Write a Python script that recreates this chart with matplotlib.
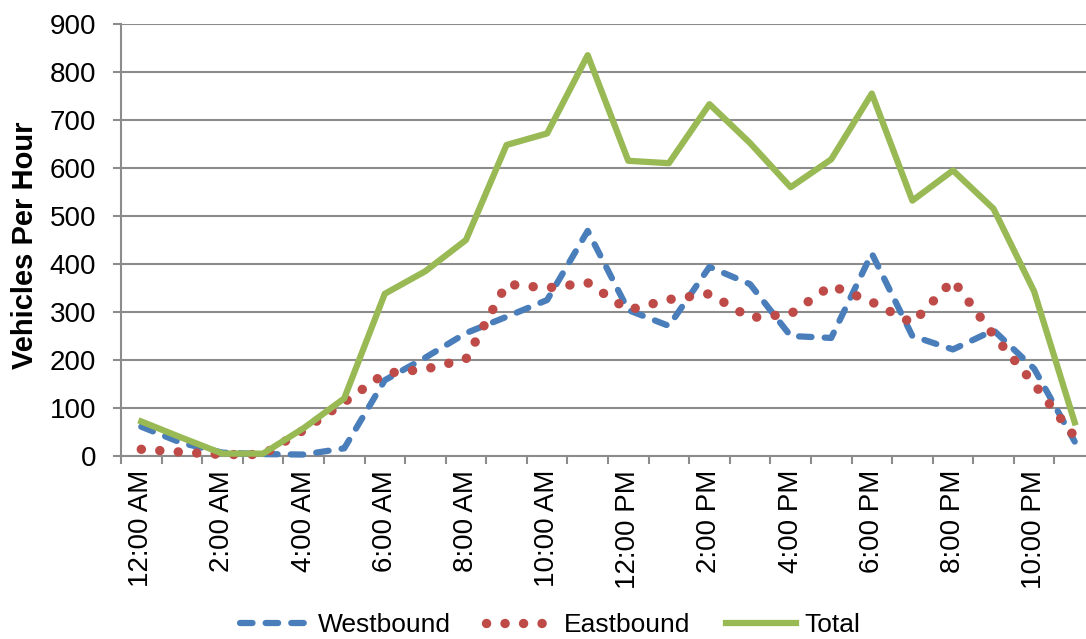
import matplotlib
matplotlib.use("Agg")
import matplotlib.pyplot as plt
import numpy as np

plt.rcParams['font.family'] = ['Liberation Sans', 'DejaVu Sans']

hours = ["12:00 AM", "1:00 AM", "2:00 AM", "3:00 AM", "4:00 AM", "5:00 AM",
         "6:00 AM", "7:00 AM", "8:00 AM", "9:00 AM", "10:00 AM", "11:00 AM",
         "12:00 PM", "1:00 PM", "2:00 PM", "3:00 PM", "4:00 PM", "5:00 PM",
         "6:00 PM", "7:00 PM", "8:00 PM", "9:00 PM", "10:00 PM", "11:00 PM"]
westbound = [61, 27, 7, 4, 3, 16, 158, 205, 256, 290, 325, 469,
             304, 271, 394, 358, 250, 246, 422, 250, 222, 262, 182, 30]
eastbound = [14, 8, 3, 3, 54, 112, 172, 181, 202, 358, 350, 361,
             304, 326, 338, 288, 296, 355, 321, 277, 366, 252, 150, 40]
total = [72, 38, 5, 5, 58, 120, 338, 385, 450, 648, 672, 835,
         615, 610, 733, 652, 560, 618, 755, 532, 595, 515, 343, 70]

W, H = 1086, 639
fig = plt.figure(figsize=(W / 100, H / 100), dpi=100)
left, right, top, bottom = 121, 1095, 24, 456
ax = fig.add_axes([left / W, (H - bottom) / H, (right - left) / W, (bottom - top) / H])

x = np.arange(len(hours))
ax.plot(x, westbound, color='#4A7EBB', lw=4.5, linestyle=(0, (2.0, 2.1)),
        dash_capstyle='round', solid_joinstyle='round', label='Westbound', clip_on=False, zorder=3)
ax.plot(x, eastbound, color='#BE4B48', lw=6.8, linestyle=(0, (0.01, 1.95)),
        dash_capstyle='round', label='Eastbound', clip_on=False, zorder=4)
ax.plot(x, total, color='#98B954', lw=4.5, solid_joinstyle='round',
        label='Total', clip_on=False, zorder=5)

ax.set_xlim(-0.5, len(hours) - 0.5)
ax.set_ylim(0, 900)
ax.set_yticks(np.arange(0, 901, 100))
ax.yaxis.grid(True, color='#8C8C8C', lw=1.5)
ax.set_axisbelow(True)

ax.set_xticks(np.arange(-0.5, len(hours), 1))
ax.set_xticklabels([])
ax.set_xticks(x[::2], minor=True)
ax.set_xticklabels(hours[::2], minor=True, rotation=90, fontsize=20)
ax.tick_params(axis='x', which='major', direction='out', length=6, width=1.5, color='#8C8C8C')
ax.tick_params(axis='x', which='minor', length=0, pad=10)
ax.tick_params(axis='y', direction='out', length=6, width=1.5, color='#8C8C8C', labelsize=20, pad=12)

for s in ['top', 'right']:
    ax.spines[s].set_visible(False)
for s in ['left', 'bottom']:
    ax.spines[s].set_color('#8C8C8C')
    ax.spines[s].set_linewidth(1.5)

fig.text(11 / W, 1 - 245 / H, 'Vehicles Per Hour', fontsize=21, fontweight='bold',
         rotation=90, ha='left', va='center')

leg = fig.legend(loc='center', bbox_to_anchor=(550 / W, 1 - 625 / H), ncol=3, frameon=False,
                 fontsize=19, handlelength=2.65, columnspacing=1.35, handletextpad=0.3,
                 borderpad=0, borderaxespad=0)

fig.savefig('out.png', dpi=100)
